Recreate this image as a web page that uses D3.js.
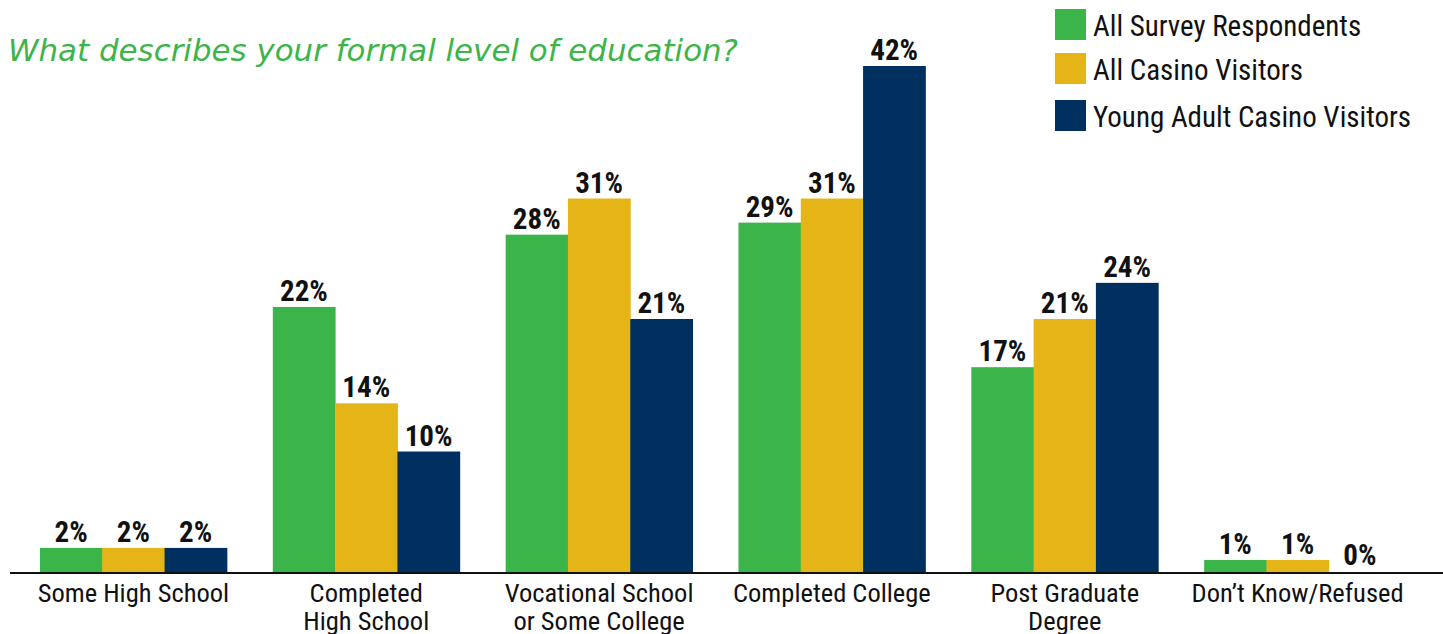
<!DOCTYPE html>
<html>
<head>
<meta charset="utf-8">
<script src="https://cdn.jsdelivr.net/npm/d3@7"></script>
<style>
  html, body { margin: 0; padding: 0; background: #fff; }
  svg { display: block; }
  .cond { font-family: "Liberation Sans Narrow", "Arial Narrow", "Roboto Condensed", "Liberation Sans", sans-serif; }
</style>
</head>
<body>
<svg id="chart" width="1443" height="634"></svg>
<script>
// Education level by respondent group (percent)
const categories = [
  ["Some High School"],
  ["Completed", "High School"],
  ["Vocational School", "or Some College"],
  ["Completed College"],
  ["Post Graduate", "Degree"],
  ["Don\u2019t Know/Refused"]
];
const seriesNames = ["All Survey Respondents", "All Casino Visitors", "Young Adult Casino Visitors"];
const allRespondents = [2, 22, 28, 29, 17, 1];
const casinoVisitors = [2, 14, 31, 31, 21, 1];
const youngAdultVisitors = [2, 10, 21, 42, 24, 0];
const colors = ["#3bb54a", "#e5b417", "#00305f"];
const subtitle = "What describes your formal level of education?";

const seriesValues = [allRespondents, casinoVisitors, youngAdultVisitors];
const svg = d3.select("#chart");

const baseY = 572;
const x0 = d3.scaleBand()
  .domain(d3.range(categories.length))
  .range([17, 1414])
  .paddingInner(0.1974)
  .paddingOuter(0.0987);
const x1 = d3.scaleBand()
  .domain(d3.range(seriesNames.length))
  .range([0, x0.bandwidth()]);
const y = d3.scaleLinear().domain([0, 42]).range([baseY, 66]);

// subtitle
svg.append("text")
  .attr("x", 8).attr("y", 61)
  .attr("fill", "#3bb54a")
  .attr("textLength", 730)
  .attr("lengthAdjust", "spacingAndGlyphs")
  .style("font-family", "'DejaVu Sans', sans-serif")
  .style("font-style", "italic")
  .style("font-size", "30px")
  .text(subtitle);

// bars
const groups = svg.append("g").selectAll("g")
  .data(categories)
  .join("g")
  .attr("transform", (d, i) => `translate(${x0(i)},0)`);

groups.selectAll("rect")
  .data((d, i) => seriesValues.map((s, j) => ({ j, v: s[i] })))
  .join("rect")
  .attr("x", d => x1(d.j))
  .attr("width", x1.bandwidth() + 0.5)
  .attr("y", d => y(d.v))
  .attr("height", d => baseY - y(d.v))
  .attr("fill", d => colors[d.j]);

groups.selectAll("text.val")
  .data((d, i) => seriesValues.map((s, j) => ({ j, v: s[i] })))
  .join("text")
  .attr("class", "val cond")
  .attr("x", d => x1(d.j) + x1.bandwidth() / 2)
  .attr("y", d => y(d.v) - (d.v === 0 ? 7 : 6))
  .attr("text-anchor", "middle")
  .style("font-size", "29px")
  .style("font-weight", "bold")
  .attr("fill", "#111")
  .text(d => d.v + "%");

// axis baseline
svg.append("line")
  .attr("x1", 10).attr("x2", 1443)
  .attr("y1", baseY + 1).attr("y2", baseY + 1)
  .attr("stroke", "#111").attr("stroke-width", 2);

// category labels
const catLabels = svg.append("g").selectAll("text")
  .data(categories)
  .join("text")
  .attr("class", "cond")
  .attr("text-anchor", "middle")
  .attr("x", (d, i) => x0(i) + x0.bandwidth() / 2)
  .attr("y", 602)
  .style("font-size", "26.5px")
  .attr("fill", "#111");
catLabels.selectAll("tspan")
  .data(d => d)
  .join("tspan")
  .attr("x", function () { return this.parentNode.getAttribute("x"); })
  .attr("dy", (d, k) => k === 0 ? 0 : 28)
  .text(d => d);

// legend
const legend = svg.append("g").selectAll("g")
  .data(seriesNames)
  .join("g")
  .attr("transform", (d, i) => `translate(1055,${[9, 53, 100][i]})`);
legend.append("rect")
  .attr("width", 31).attr("height", 31)
  .attr("fill", (d, i) => colors[i]);
legend.append("text")
  .attr("class", "cond")
  .attr("x", 38).attr("y", 27)
  .style("font-size", "29px")
  .attr("fill", "#111")
  .text(d => d);
</script>
</body>
</html>
